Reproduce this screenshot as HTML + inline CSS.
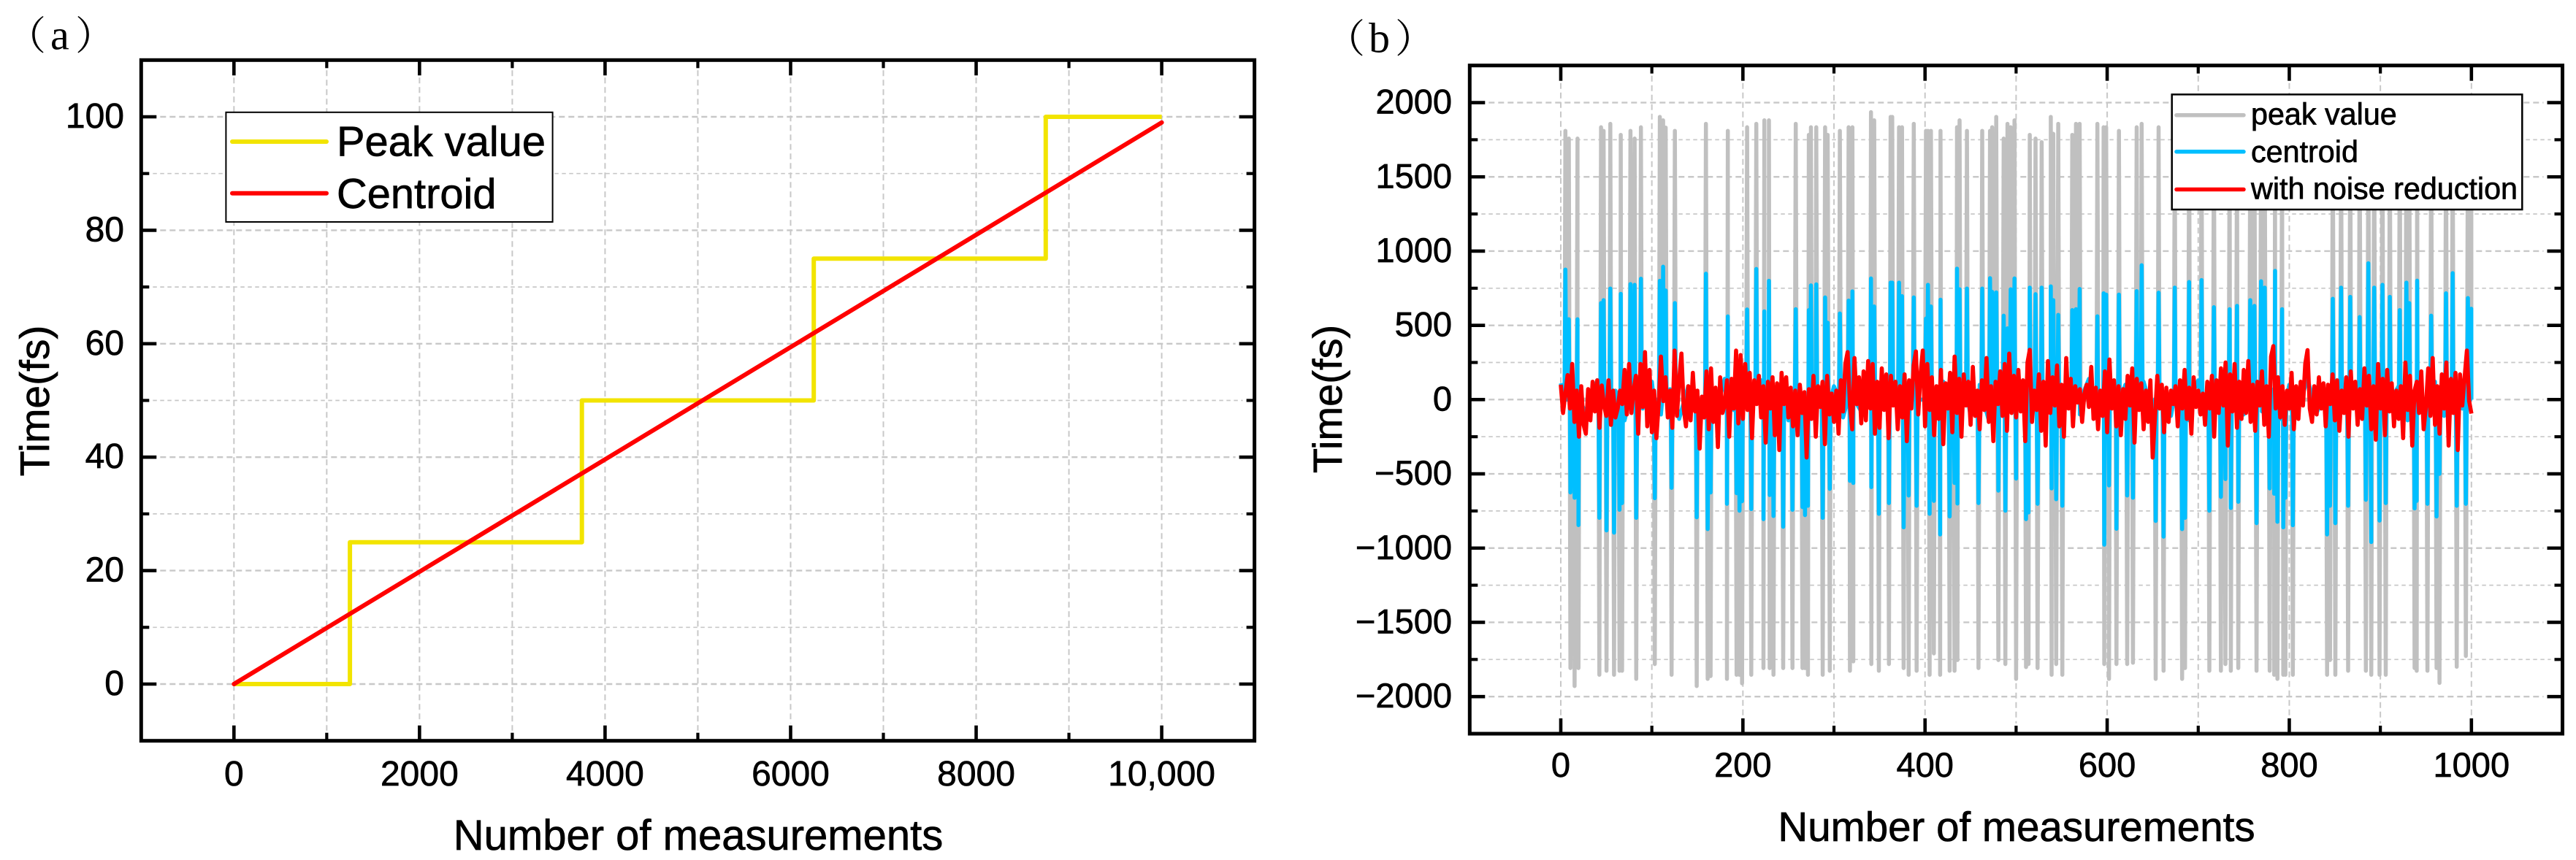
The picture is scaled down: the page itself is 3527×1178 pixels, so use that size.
<!DOCTYPE html>
<html lang="en">
<head>
<meta charset="utf-8">
<title>Time versus number of measurements</title>
<style>
html,body{margin:0;padding:0;background:#fff;width:3527px;height:1178px;overflow:hidden}
svg{display:block}
text{font-family:"Liberation Sans",Arial,sans-serif;fill:#000;stroke:#000;stroke-width:.7}
.panel{font-family:"Liberation Serif","Noto Serif CJK SC",serif;font-size:54px;stroke:none}
</style>
</head>
<body>
<svg id="fig" xmlns="http://www.w3.org/2000/svg" width="3527" height="1178" viewBox="0 0 3527 1178">
  <rect x="0" y="0" width="3527" height="1178" fill="#fff"/>

  <text class="panel" y="67.5"><tspan x="9">（</tspan><tspan x="69" font-size="58">a</tspan><tspan x="103">）</tspan></text>
  <g id="a-grid"></g>
  <g id="a-series"></g>
  <rect x="193.3" y="82.3" width="1524.3" height="932.4" fill="none" stroke="#000" stroke-width="5"/>
  <g id="a-ticks"></g>
  <text x="956" y="1164" font-size="58" text-anchor="middle">Number of measurements</text>
  <text x="67" y="549" font-size="57" text-anchor="middle" transform="rotate(-90 67 549)">Time(fs)</text>
  <g>
    <rect x="309.4" y="153.8" width="447.2" height="150.2" fill="#fff" stroke="#000" stroke-width="2"/>
    <line x1="318" y1="194" x2="447" y2="194" stroke="#f2e400" stroke-width="6" stroke-linecap="round"/>
    <text x="461" y="213.5" font-size="57.8">Peak value</text>
    <line x1="318" y1="264.8" x2="447" y2="264.8" stroke="#ff0000" stroke-width="6" stroke-linecap="round"/>
    <text x="461" y="285" font-size="57.8">Centroid</text>
  </g>

  <text class="panel" y="71.5"><tspan x="1815">（</tspan><tspan x="1874" font-size="58">b</tspan><tspan x="1910">）</tspan></text>
  <g id="b-grid"></g>
  <g id="b-series"></g>
  <g>
    <rect x="2973.7" y="129.4" width="479.6" height="157.6" fill="#fff" stroke="#000" stroke-width="2.5"/>
    <line x1="2980" y1="157.7" x2="3072" y2="157.7" stroke="#c0c0c0" stroke-width="5.5" stroke-linecap="round"/>
    <text x="3082" y="170.3" font-size="41.3">peak value</text>
    <line x1="2980" y1="207.8" x2="3072" y2="207.8" stroke="#00bfff" stroke-width="5.5" stroke-linecap="round"/>
    <text x="3082" y="222" font-size="41.3">centroid</text>
    <line x1="2980" y1="259.5" x2="3072" y2="259.5" stroke="#ff0000" stroke-width="5.5" stroke-linecap="round"/>
    <text x="3082" y="272.5" font-size="41.3">with noise reduction</text>
  </g>
  <rect x="2012.3" y="89.7" width="1496.2" height="915.3" fill="none" stroke="#000" stroke-width="5"/>
  <g id="b-ticks"></g>
  <text x="2761" y="1152" font-size="56.5" text-anchor="middle">Number of measurements</text>
  <text x="1837" y="546.5" font-size="56" text-anchor="middle" transform="rotate(-90 1837 546.5)">Time(fs)</text>
</svg>

<script>
// ---- Chart (a) data ----
const aXMajor = [0, 2000, 4000, 6000, 8000, 10000];
const aXMajorLabels = ['0', '2000', '4000', '6000', '8000', '10,000'];
const aXMinor = [1000, 3000, 5000, 7000, 9000];
const aYMajor = [0, 20, 40, 60, 80, 100];
const aYMajorLabels = ['0', '20', '40', '60', '80', '100'];
const aYMinor = [10, 30, 50, 70, 90];
const peakStepX = [0, 1250, 1250, 3750, 3750, 6250, 6250, 8750, 8750, 10000];
const peakStepY = [0, 0, 25, 25, 50, 50, 75, 75, 100, 100];
const centroidLineX = [0, 10000];
const centroidLineY = [0, 99];

// ---- Chart (b) data ----
const bXMajor = [0, 200, 400, 600, 800, 1000];
const bXMajorLabels = ['0', '200', '400', '600', '800', '1000'];
const bXMinor = [100, 300, 500, 700, 900];
const bYMajor = [-2000, -1500, -1000, -500, 0, 500, 1000, 1500, 2000];
const bYMajorLabels = ['\u22122000', '\u22121500', '\u22121000', '\u2212500', '0', '500', '1000', '1500', '2000'];
const bYMinor = [-1750, -1250, -750, -250, 250, 750, 1250, 1750];

const spikeIdx = [
5.1,8.8,18.4,44.2,47,54.4,65.9,76.5,81.1,88,108.8,112.4,115.2,125.3,159.4,183.4,204.6,214.7,223.5,228.6,
258,272.4,274.7,280.6,290.3,293.1,306.5,316.1,320.3,340.6,344.2,362.2,364,371.4,374.7,387.6,401,403.2,406.5,417,
435.1,437.9,446,462.8,471.4,473.7,478.2,486.4,490.5,494.1,498.2,515,521.3,528.1,538.1,540.8,546.3,561.7,565.8,569.8,
589.3,596.1,598.9,612.9,632.4,637.9,656.5,674.2,690,703.6,717.2,734.5,742.6,757.1,761.7,769,773,784.4,792.1,847.8,
856.9,866.9,877.3,886.8,893.2,902.3,910.4,921.3,928.6,931.7,940.4,955.8,972.1,979.4,996.1,999.8,
10.6,15.2,19.4,42.4,50.2,58.5,64.5,67.3,82.9,103.2,121.7,149.3,161.3,164.5,182.5,193.1,196.3,199.1,209.2,222.6,
229.4,233.6,244.2,254.4,265.4,268.2,271.4,287.6,295.4,317.5,321.2,341,349.3,360.4,376.5,382,390.8,405,409.7,416.6,
427,432.4,435.6,458.7,480.5,488.2,500,510.9,513.6,523.6,539,544,550.8,596.8,602,610.2,622,628.3,653.3,661.9,
682.3,685.5,712.2,724.9,729.9,735.8,744,764,778.5,783.4,787,793.4,795.7,803.9,841.5,844.7,850.6,864.6,884.1,890,
899.1,905.9,937.6,939.9,951.7,961.7,964.9,983.9,993.9];
const peakVals = [
1810,1758,1758,1834,1810,1857,1783,1810,1758,1834,1904,1881,1832,1810,1857,1810,1834,1857,1881,1881,
1857,1783,1834,1834,1834,1783,1810,1834,1834,1936,1881,1904,1904,1834,1834,1857,1810,1810,1810,1810,
1834,1881,1810,1810,1810,1834,1904,1758,1857,1834,1881,1783,1758,1734,1904,1790,1857,1783,1857,1857,
1857,1834,1834,1810,1834,1857,1834,1800,1820,1790,1830,1800,1810,1790,1820,1800,1830,1810,1790,1820,
1800,1830,1810,1790,1820,1800,1830,1810,1790,1820,1800,1830,1810,1790,1820,1800,
-1808,-1929,-1808,-1853,-1826,-1853,-1826,-1826,-1881,-1781,-1853,-1929,-1881,-1862,-1881,-1853,-1853,-1911,-1853,-1808,
-1808,-1853,-1808,-1808,-1808,-1808,-1853,-1853,-1826,-1826,-1763,-1781,-1826,-1781,-1808,-1853,-1826,-1853,-1709,-1853,
-1826,-1826,-1754,-1808,-1754,-1781,-1881,-1801,-1781,-1808,-1853,-1781,-1853,-1781,-1881,-1781,-1781,-1772,-1881,-1826,
-1881,-1808,-1826,-1826,-1781,-1826,-1808,-1826,-1826,-1853,-1881,-1853,-1853,-1853,-1853,-1754,-1853,-1826,-1826,-1853,
-1853,-1853,-1808,-1826,-1826,-1808,-1908,-1799,-1727];
const centroidVals = [
876,541,541,650,670,748,712,778,773,814,800,895,735,650,848,560,607,880,594,800,
609,603,769,776,688,518,580,667,729,816,627,788,788,788,697,688,546,773,627,673,
882,743,748,748,818,726,722,565,480,743,816,754,710,754,763,670,571,603,609,745,
561,716,707,707,731,905,720,754,792,805,622,609,631,670,631,797,754,867,609,679,
754,692,556,918,754,773,692,603,788,650,801,565,716,852,684,612,
-625,-661,-845,-796,-881,-896,-742,-697,-796,-664,-594,-793,-872,-625,-702,-630,-748,-684,-737,-805,
-643,-784,-856,-742,-724,-778,-715,-796,-601,-547,-561,-589,-769,-697,-860,-646,-715,-769,-682,-908,
-787,-561,-700,-697,-613,-748,-532,-805,-760,-702,-598,-671,-715,-977,-578,-870,-646,-661,-817,-923,
-872,-796,-748,-655,-535,-730,-688,-832,-598,-634,-823,-860,-661,-846,-908,-715,-832,-715,-675,-959,
-815,-697,-733,-682,-702,-787,-500,-715,-702];

// Low-level centroid wobble, one reading per 10 measurements
const centroidBase = [
110,-70,90,-120,130,-80,60,-140,100,-60,120,-100,70,-130,90,-50,110,-90,140,-70,
60,-110,130,-60,100,-140,80,-90,120,-50,90,-120,60,-80,130,-100,70,-60,110,-130,
90,-70,120,-50,80,-110,100,-140,60,-90,130,-70,110,-60,90,-120,70,-100,140,-80,
60,-130,100,-50,120,-90,80,-110,60,-140,130,-70,90,-60,110,-100,120,-80,70,-130,
100,-60,140,-90,60,-120,80,-50,110,-100,130,-70,90,-140,60,-80,120,-110,100,-60,80];

// Noise-reduced trace, one reading per 2.5 measurements
const noiseReduced = [
100,-90,40,165,-60,240,-150,60,-250,90,-170,-230,70,-140,120,-80,130,-190,95,-40,
-110,130,-170,60,-120,-60,60,-30,200,-100,240,-90,60,160,-230,240,-50,320,-180,200,
-220,60,-260,-30,290,-10,150,-120,60,-190,330,-110,130,310,-60,-180,90,-140,180,-80,
60,-330,20,-120,190,-200,210,-150,80,-320,150,-90,-40,130,-250,140,-60,330,-160,300,
-130,240,-70,180,-260,130,-30,160,-120,90,-290,120,-60,150,-240,110,-340,180,-30,150,
-120,80,-180,60,-240,100,-90,50,-390,70,-130,160,-250,90,-50,120,-300,160,-100,40,
-150,60,-230,130,-80,240,320,-40,-200,280,-30,150,-160,190,-140,260,-60,240,-230,120,
-190,210,-70,170,-260,160,-40,120,-200,90,-120,170,-280,130,-60,230,324,-100,170,330,
-180,240,-70,150,-240,90,-130,200,-300,110,-60,180,-220,290,-90,140,-250,170,-40,120,
-170,220,-110,60,-200,130,-70,280,-150,90,-280,120,-30,190,-110,240,-210,310,-90,160,
-120,200,-80,130,-280,250,335,-150,60,-70,170,-210,120,-310,260,-90,150,-40,230,-180,
100,-250,280,-60,140,-180,90,-20,70,-150,40,100,-50,220,-130,80,-200,60,-110,190,
-220,270,-60,130,-180,90,-240,70,-130,160,-40,210,-290,140,-70,110,-200,60,-150,130,
-390,-120,160,-60,100,-220,80,-150,60,-30,90,-180,130,-60,200,-130,80,-230,150,-50,
60,-100,40,-170,120,-60,160,-250,130,-90,210,-40,250,-310,170,-80,240,-190,120,-130,
200,-90,260,-150,100,-210,120,-40,190,-170,90,-250,290,360,-60,150,-120,90,-170,60,
-60,180,-200,90,-130,120,-40,240,333,-60,-150,90,-100,150,-60,110,-180,100,-30,170,
-140,130,-210,60,-90,150,-250,190,-60,120,-170,70,-130,210,-40,160,-200,90,-270,240,
-60,140,-240,200,-80,110,-180,60,-130,90,-260,250,-70,160,-310,60,120,-90,190,-200,
-50,210,-110,280,-170,90,-230,170,-60,250,-310,140,-90,180,-340,170,-40,150,330,-10,-94];

// ---- Axis functions ----
const scale = (d0, d1, r0, r1) => v => r0 + (v - d0) * (r1 - r0) / (d1 - d0);
const ax = scale(-1000, 11000, 193.3, 1717.6);
const ay = scale(-10, 110, 1014.7, 82.3);
const bx = scale(-100, 1100, 2012.3, 3508.5);
const by = scale(-2250, 2250, 1005, 89.7);

const NS = 'http://www.w3.org/2000/svg';
function make(tag, attrs, parent) {
  const el = document.createElementNS(NS, tag);
  for (const k in attrs) el.setAttribute(k, attrs[k]);
  parent.appendChild(el);
  return el;
}
function pathFrom(xs, ys, fx, fy) {
  return xs.map((x, i) => (i ? 'L' : 'M') + fx(x).toFixed(1) + ' ' + fy(ys[i]).toFixed(1)).join('');
}
const GRID = '#c8c8c8';

function drawAxes(gridGroup, tickGroup, cfg) {
  const { fx, fy, xMaj, xMin, yMaj, yMin, xLabels, yLabels, left, right, top, bottom, xBase, yAnchor, fs } = cfg;
  const gridV = (v, major) => {
    const inset = major ? 24 : 14;
    const g = make('line', { x1: fx(v), x2: fx(v), y1: top + inset, y2: bottom - inset, stroke: GRID, 'stroke-width': 2, 'stroke-dasharray': major ? '8 5' : '8 5' }, gridGroup);
    
    
  };
  const gridH = (v, major) => {
    const inset = major ? 26 : 16;
    const g = make('line', { x1: left + inset, x2: right - inset, y1: fy(v), y2: fy(v), stroke: GRID, 'stroke-width': major ? 2.4 : 1.7, 'stroke-dasharray': major ? '8 5' : '5.5 4.5' }, gridGroup);
    
    
  };
  xMaj.forEach(v => gridV(v, true));
  xMin.forEach(v => gridV(v, false));
  yMaj.forEach(v => gridH(v, true));
  yMin.forEach(v => gridH(v, false));
  const tick = (x1, y1, x2, y2, major) => {
    const t = make('line', { x1, y1, x2, y2, stroke: '#000', 'stroke-width': major ? 4.6 : 4.2 }, tickGroup);
    
    
  };
  xMaj.forEach(v => { tick(fx(v), bottom, fx(v), bottom - 21, true); tick(fx(v), top, fx(v), top + 21, true); });
  xMin.forEach(v => { tick(fx(v), bottom, fx(v), bottom - 11, false); tick(fx(v), top, fx(v), top + 11, false); });
  yMaj.forEach(v => { tick(left, fy(v), left + 21, fy(v), true); tick(right, fy(v), right - 21, fy(v), true); });
  yMin.forEach(v => { tick(left, fy(v), left + 11, fy(v), false); tick(right, fy(v), right - 11, fy(v), false); });
  xMaj.forEach((v, i) => {
    const t = make('text', { x: fx(v), y: xBase, 'font-size': fs, 'text-anchor': 'middle' }, tickGroup);
    t.textContent = xLabels[i];
    
    
  });
  yMaj.forEach((v, i) => {
    const t = make('text', { x: yAnchor, y: fy(v) + 15, 'font-size': fs, 'text-anchor': 'end' }, tickGroup);
    t.textContent = yLabels[i];
    
    
  });
}

drawAxes(document.getElementById('a-grid'), document.getElementById('a-ticks'), {
  fx: ax, fy: ay, xMaj: aXMajor, xMin: aXMinor, yMaj: aYMajor, yMin: aYMinor,
  xLabels: aXMajorLabels, yLabels: aYMajorLabels,
  left: 193.3, right: 1717.6, top: 82.3, bottom: 1014.7, xBase: 1076, yAnchor: 170, fs: 48
});
drawAxes(document.getElementById('b-grid'), document.getElementById('b-ticks'), {
  fx: bx, fy: by, xMaj: bXMajor, xMin: bXMinor, yMaj: bYMajor, yMin: bYMinor,
  xLabels: bXMajorLabels, yLabels: bYMajorLabels,
  left: 2012.3, right: 3508.5, top: 89.7, bottom: 1005, xBase: 1064, yAnchor: 1988, fs: 47
});

// Chart (a) series
const aSeries = document.getElementById('a-series');
const peakLine = make('path', { d: pathFrom(peakStepX, peakStepY, ax, ay), fill: 'none', stroke: '#f2e400', 'stroke-width': 6, 'stroke-linejoin': 'round' }, aSeries);


const centroidLine = make('path', { d: pathFrom(centroidLineX, centroidLineY, ax, ay), fill: 'none', stroke: '#ff0000', 'stroke-width': 6, 'stroke-linecap': 'round' }, aSeries);



// Chart (b) series: each spike rises from the local baseline and returns
function spikeSeries(vals, base) {
  const pts = [];
  spikeIdx.forEach((x, i) => {
    pts.push([x - 1, 0], [x, vals[i]], [x + 1, 0]);
  });
  if (base) base.forEach((v, i) => pts.push([i * 10, v]));
  pts.sort((p, q) => p[0] - q[0]);
  return pts.map((p, i) => (i ? 'L' : 'M') + bx(Math.max(0, Math.min(1000, p[0]))).toFixed(1) + ' ' + by(p[1]).toFixed(1)).join('');
}
const bSeries = document.getElementById('b-series');
const grayLine = make('path', { d: spikeSeries(peakVals, null), fill: 'none', stroke: '#c0c0c0', 'stroke-width': 5.5, 'stroke-linejoin': 'round' }, bSeries);


const blueLine = make('path', { d: spikeSeries(centroidVals, centroidBase), fill: 'none', stroke: '#00bfff', 'stroke-width': 5.5, 'stroke-linejoin': 'round' }, bSeries);


const redXs = noiseReduced.map((v, i) => i * 2.5);
const redLine = make('path', { d: pathFrom(redXs, noiseReduced, bx, by), fill: 'none', stroke: '#ff0000', 'stroke-width': 5.6, 'stroke-linejoin': 'round' }, bSeries);


</script>
</body>
</html>
